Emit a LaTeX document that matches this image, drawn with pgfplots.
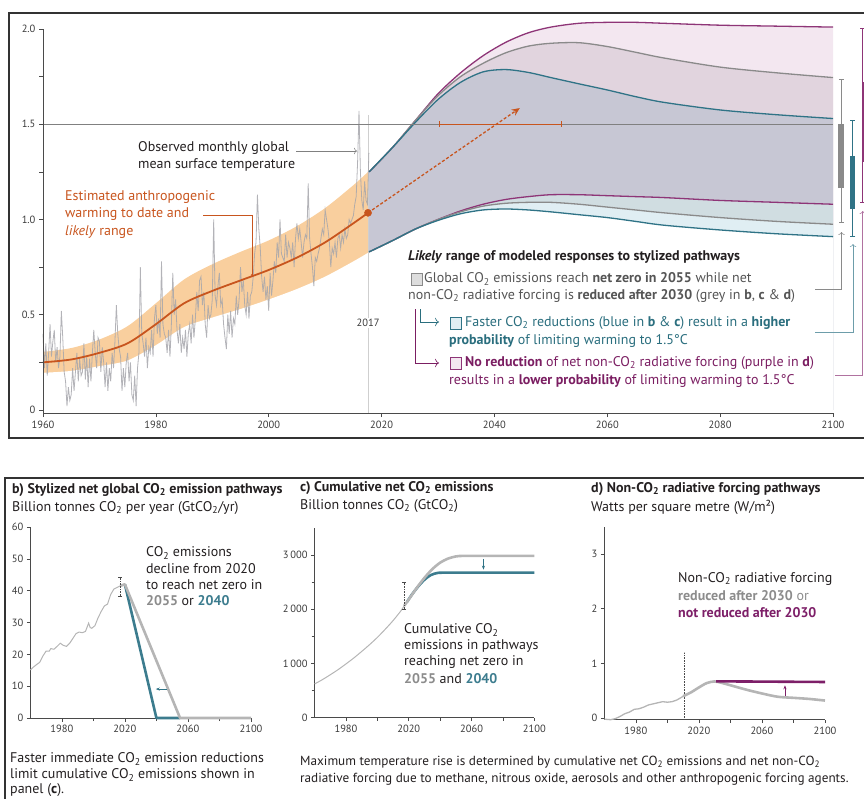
\documentclass[border=0pt]{standalone}
\usepackage{fontspec}
\setmainfont{PT Sans}
\usepackage{pgfplots}
\pgfplotsset{compat=1.18}
\usepackage{pgfplotstable}
\usetikzlibrary{arrows.meta}

\definecolor{axc}{HTML}{4A4A4A}
\definecolor{tlc}{HTML}{3A3A3A}
\definecolor{framec}{HTML}{333333}
\definecolor{obsc}{HTML}{A6A6AC}
\definecolor{bandc}{HTML}{F9CF9E}
\definecolor{orc}{HTML}{C8551E}
\definecolor{vlinec}{HTML}{CFCFCF}
\definecolor{hlc}{HTML}{808080}
\definecolor{fpink}{HTML}{F3E7F0}
\definecolor{fpg}{HTML}{E1D4DE}
\definecolor{fmid}{HTML}{C7C7D4}
\definecolor{fbg}{HTML}{D0DDE1}
\definecolor{flb}{HTML}{E0EEF3}
\definecolor{purl}{HTML}{8E3577}
\definecolor{grl}{HTML}{8A8A8A}
\definecolor{tel}{HTML}{2F7386}
\definecolor{txt}{HTML}{231F20}
\definecolor{gtxt}{HTML}{555555}
\definecolor{ttxt}{HTML}{2A6E7E}
\definecolor{ptxt}{HTML}{7B1E62}
\definecolor{gthick}{HTML}{B5B5B5}
\definecolor{tthick}{HTML}{3C7C8E}
\definecolor{pthick}{HTML}{7D1F68}
\definecolor{num}{HTML}{8C8C8C}

\newcommand\co{CO\textsubscript{2}}
\newcommand\ann{\fontsize{14}{17}\selectfont}
\newcommand\tickf{\fontsize{10.5}{12}\selectfont}

% anthropogenic warming and likely range
\pgfplotstableread{
yr mid up lo
1960 0.25 0.305 0.195
1965 0.265 0.325 0.205
1970 0.30 0.37 0.23
1975 0.35 0.44 0.26
1980 0.45 0.56 0.34
1985 0.56 0.685 0.435
1990 0.625 0.765 0.485
1995 0.68 0.83 0.53
2000 0.735 0.89 0.58
2005 0.80 0.965 0.635
2010 0.88 1.06 0.70
2015 0.98 1.18 0.78
2017.6 1.035 1.25 0.825
}\anthro

% likely ranges of the stylized pathways (upper / lower)
\pgfplotstableread{
yr pu gu bu pl gl bl
2017.8 1.25 1.25 1.25 0.83 0.83 0.83
2022 1.38 1.38 1.38 0.89 0.89 0.89
2026 1.52 1.52 1.51 0.95 0.95 0.95
2030 1.66 1.65 1.63 1.00 1.00 0.995
2034 1.77 1.75 1.72 1.045 1.04 1.03
2038 1.86 1.82 1.775 1.08 1.07 1.05
2042 1.93 1.875 1.787 1.105 1.085 1.055
2046 1.98 1.91 1.772 1.12 1.09 1.05
2050 2.01 1.925 1.745 1.13 1.09 1.04
2055 2.03 1.928 1.712 1.13 1.08 1.025
2060 2.035 1.908 1.68 1.125 1.065 1.01
2065 2.035 1.878 1.645 1.12 1.05 0.99
2070 2.03 1.848 1.615 1.115 1.035 0.97
2080 2.02 1.80 1.575 1.10 1.01 0.945
2090 2.015 1.77 1.55 1.09 0.99 0.925
2100 2.01 1.745 1.53 1.08 0.975 0.91
}\future

\pgfplotsset{
  bot/.style={anchor=south west, scale only axis, xmin=1960, xmax=2100, clip=false,
    axis lines*=left, axis line style={-, draw=axc, line width=0.8pt},
    tick style={draw=axc, line width=0.6pt}, tick align=outside,
    major tick length=3.5pt, minor tick length=3pt,
    xtick={1980,2020,2060,2100}, xticklabels={1980,2020,2060,2100},
    minor xtick={2000,2040,2080},
    tick label style={font=\tickf, text=tlc},
    /pgf/number format/assume math mode=true},
}

\begin{document}
\begin{tikzpicture}
\path[use as bounding box] (0pt,0pt) rectangle (864pt,-798pt);
\clip (0pt,0pt) rectangle (864pt,-798pt);

\draw[framec, line width=1.2pt] (9pt,-13pt) rectangle (880pt,-438pt);
\draw[framec, line width=1.2pt] (880pt,-478pt) -- (5pt,-478pt) -- (5pt,-810pt);

%% a) temperature panel
\begin{axis}[
  at={(43pt,-413pt)}, anchor=south west, scale only axis,
  width=790pt, height=384pt,
  xmin=1960, xmax=2100, ymin=-0.016, ymax=2,
  clip=false, axis on top,
  axis lines*=left, axis line style={-, draw=axc, line width=0.9pt},
  xtick={1960,1980,...,2100},
  xticklabels={1960,1980,2000,2020,2040,2060,2080,2100},
  ytick={0,0.5,1,1.5,2}, yticklabels={0,0.5,1.0,1.5,2.0},
  minor ytick={0.25,0.75,1.25,1.75},
  tick align=outside,
  major tick length=4pt, minor tick length=4pt,
  tick style={draw=axc, line width=0.7pt},
  tick label style={font=\tickf, text=tlc},
  /pgf/number format/assume math mode=true,
]
% anthropogenic likely range (upper edge filled, lower edge masked)
\addplot[fill=bandc, draw=none, smooth] table[x=yr, y=up] {\anthro} \closedcycle;
\addplot[fill=white, draw=none, smooth] table[x=yr, y=lo] {\anthro} \closedcycle;

% stylized pathway ranges, stacked from the top edge down
\addplot[fill=fpink, draw=none, smooth] table[x=yr, y=pu] {\future} \closedcycle;
\addplot[fill=fpg, draw=none, smooth] table[x=yr, y=gu] {\future} \closedcycle;
\addplot[fill=fmid, draw=none, smooth] table[x=yr, y=bu] {\future} \closedcycle;
\addplot[fill=fbg, draw=none, smooth] table[x=yr, y=pl] {\future} \closedcycle;
\addplot[fill=flb, draw=none, smooth] table[x=yr, y=gl] {\future} \closedcycle;
\addplot[fill=white, draw=none, smooth] table[x=yr, y=bl] {\future} \closedcycle;

\addplot[vlinec, line width=0.8pt] coordinates {(2017.6,-0.016)(2017.6,1.55)};

\addplot[obsc, line width=0.8pt, opacity=0.85] coordinates {
(1960,.40)(1960.25,.22)(1960.5,.35)(1960.75,.18)
(1961,.30)(1961.25,.45)(1961.5,.28)(1961.75,.36)
(1962,.42)(1962.25,.25)(1962.5,.33)(1962.75,.22)
(1963,.28)(1963.25,.52)(1963.5,.38)(1963.75,.20)
(1964,.15)(1964.25,.02)(1964.5,.12)(1964.75,.05)
(1965,.08)(1965.25,.22)(1965.5,.10)(1965.75,.20)
(1966,.30)(1966.25,.15)(1966.5,.27)(1966.75,.18)
(1967,.20)(1967.25,.35)(1967.5,.16)(1967.75,.28)
(1968,.12)(1968.25,.27)(1968.5,.15)(1968.75,.30)
(1969,.42)(1969.25,.30)(1969.5,.22)(1969.75,.38)
(1970,.36)(1970.25,.20)(1970.5,.33)(1970.75,.25)
(1971,.12)(1971.25,.25)(1971.5,.10)(1971.75,.22)
(1972,.15)(1972.25,.30)(1972.5,.22)(1972.75,.36)
(1973,.55)(1973.25,.40)(1973.5,.32)(1973.75,.28)
(1974,.10)(1974.25,.22)(1974.5,.12)(1974.75,.25)
(1975,.30)(1975.25,.15)(1975.5,.25)(1975.75,.08)
(1976,.05)(1976.25,.18)(1976.5,.02)(1976.75,.22)
(1977,.30)(1977.25,.75)(1977.5,.40)(1977.75,.35)
(1978,.28)(1978.25,.38)(1978.5,.22)(1978.75,.33)
(1979,.30)(1979.25,.42)(1979.5,.28)(1979.75,.48)
(1980,.55)(1980.25,.40)(1980.5,.48)(1980.75,.38)
(1981,.78)(1981.25,.45)(1981.5,.40)(1981.75,.38)
(1982,.30)(1982.25,.42)(1982.5,.28)(1982.75,.45)
(1983,.72)(1983.25,.50)(1983.5,.58)(1983.75,.42)
(1984,.35)(1984.25,.45)(1984.5,.30)(1984.75,.38)
(1985,.32)(1985.25,.42)(1985.5,.28)(1985.75,.40)
(1986,.45)(1986.25,.35)(1986.5,.50)(1986.75,.38)
(1987,.48)(1987.25,.62)(1987.5,.52)(1987.75,.68)
(1988,.70)(1988.25,.55)(1988.5,.62)(1988.75,.45)
(1989,.38)(1989.25,.55)(1989.5,.48)(1989.75,.50)
(1990,.58)(1990.25,1.00)(1990.5,.60)(1990.75,.55)
(1991,.65)(1991.25,.72)(1991.5,.55)(1991.75,.58)
(1992,.45)(1992.25,.38)(1992.5,.32)(1992.75,.50)
(1993,.40)(1993.25,.52)(1993.5,.38)(1993.75,.48)
(1994,.45)(1994.25,.60)(1994.5,.50)(1994.75,.58)
(1995,.75)(1995.25,.62)(1995.5,.68)(1995.75,.55)
(1996,.50)(1996.25,.62)(1996.5,.48)(1996.75,.60)
(1997,.62)(1997.25,.70)(1997.5,.82)(1997.75,.88)
(1998,1.13)(1998.25,.95)(1998.5,.85)(1998.75,.70)
(1999,.62)(1999.25,.70)(1999.5,.58)(1999.75,.65)
(2000,.52)(2000.25,.72)(2000.5,.60)(2000.75,.68)
(2001,.78)(2001.25,.72)(2001.5,.88)(2001.75,.80)
(2002,1.00)(2002.25,.82)(2002.5,.80)(2002.75,.78)
(2003,.92)(2003.25,.80)(2003.5,.88)(2003.75,.85)
(2004,.80)(2004.25,.88)(2004.5,.75)(2004.75,.90)
(2005,.98)(2005.25,.90)(2005.5,.95)(2005.75,.88)
(2006,.80)(2006.25,.88)(2006.5,.92)(2006.75,.90)
(2007,1.19)(2007.25,.90)(2007.5,.82)(2007.75,.75)
(2008,.65)(2008.25,.80)(2008.5,.78)(2008.75,.82)
(2009,.85)(2009.25,.90)(2009.5,.95)(2009.75,.92)
(2010,1.05)(2010.25,1.00)(2010.5,.95)(2010.75,.88)
(2011,.75)(2011.25,.85)(2011.5,.82)(2011.75,.88)
(2012,.80)(2012.25,.90)(2012.5,.92)(2012.75,.85)
(2013,.92)(2013.25,.88)(2013.5,.95)(2013.75,.90)
(2014,.92)(2014.25,1.00)(2014.5,.98)(2014.75,1.00)
(2015,1.02)(2015.25,1.08)(2015.5,1.12)(2015.75,1.30)
(2016,1.57)(2016.25,1.25)(2016.5,1.10)(2016.75,1.05)
(2017,1.20)(2017.25,1.10)(2017.5,1.08)(2017.75,1.35)
};

\addplot[orc, line width=1.8pt, smooth] table[x=yr, y=mid] {\anthro};

\addplot[purl, line width=1.3pt, smooth] table[x=yr, y=pu] {\future};
\addplot[purl, line width=1.3pt, smooth] table[x=yr, y=pl] {\future};
\addplot[grl, line width=1.3pt, smooth] table[x=yr, y=gu] {\future};
\addplot[grl, line width=1.3pt, smooth] table[x=yr, y=gl] {\future};
\addplot[tel, line width=1.3pt, smooth] table[x=yr, y=bu] {\future};
\addplot[tel, line width=1.3pt, smooth] table[x=yr, y=bl] {\future};

\addplot[hlc, line width=0.7pt] coordinates {(1960,1.5)(2100,1.5)};

% 1.5C crossing range and extrapolation
\addplot[orc, line width=1pt, {Bar[width=6pt]}-{Bar[width=6pt]}] coordinates {(2030.2,1.5)(2052,1.5)};
\addplot[orc, line width=1.3pt, dash pattern=on 3pt off 2pt, -{Stealth[length=8pt,width=7pt]}] coordinates {(2017.6,1.035)(2044.5,1.585)};
\addplot[only marks, mark=*, mark size=3.6pt, orc] coordinates {(2017.6,1.035)};

% ranges at 2100
\addplot[grl, line width=0.9pt, {Bar[width=5pt]}-{Bar[width=5pt]}] coordinates {(2101.5,0.98)(2101.5,1.74)};
\addplot[grl, line width=6pt] coordinates {(2101.5,1.165)(2101.5,1.50)};
\addplot[tel, line width=0.9pt, {Bar[width=5pt]}-{Bar[width=5pt]}] coordinates {(2103.5,0.91)(2103.5,1.52)};
\addplot[tel, line width=5pt] coordinates {(2103.5,1.055)(2103.5,1.333)};
\addplot[purl, line width=0.9pt, {Bar[width=5pt]}-{Bar[width=5pt]}] coordinates {(2105.3,1.087)(2105.3,2.005)};
\addplot[purl, line width=5pt] coordinates {(2105.6,1.30)(2105.6,1.72)};

\node[font=\tickf, text=tlc, fill=white, inner sep=1.5pt] at (axis cs:2017.6,0.457) {2017};
\end{axis}

%% b) emissions
\begin{axis}[bot, at={(30.3pt,-718pt)}, width=220.7pt, height=191pt,
  ymin=0, ymax=60, ytick={0,10,...,60}, yticklabels={0,10,20,30,40,50,60}]
\addplot[gthick, line width=1pt] coordinates {
(1960,15.1)(1962,16)(1964,16.8)(1966,17.5)(1968,19.5)(1970,21)(1972,21)(1973,21.8)
(1975,21.6)(1977,22.5)(1979,23.5)(1981,22.8)(1983,22.5)(1985,23.5)(1987,25)(1989,26.5)
(1991,27)(1993,26.8)(1995,27.2)(1997,29.8)(1998,28.4)(1999,28.2)(2001,29)(2003,31.5)
(2005,33.5)(2007,35.2)(2009,35.8)(2011,38.8)(2013,40.5)(2015,41)(2017,41.5)};
\addplot[tthick, line width=2.6pt, line join=round] coordinates {(2020,42)(2040,0)(2055,0)};
\addplot[gthick, line width=2.6pt, line join=round] coordinates {(2017,41.5)(2020,42)(2055,0)(2100,0)};
\addplot[axc, line width=0.6pt, densely dotted, {Bar[width=4pt]}-{Bar[width=4pt]}] coordinates {(2017,38.2)(2017,44.4)};
\addplot[tel, line width=0.8pt, -{Stealth[length=4pt]}] coordinates {(2047,9.1)(2039.6,9.1)};
\end{axis}

%% c) cumulative emissions
\begin{axis}[bot, at={(314.6pt,-717.5pt)}, width=219.7pt, height=189.5pt,
  ymin=0, ymax=3500, ytick={0,1000,2000,3000},
  yticklabels={0,1\,000,2\,000,3\,000}, minor ytick={500,1500,2500}]
\addplot[gthick, line width=1pt, smooth] coordinates {
(1960,620)(1965,700)(1970,790)(1975,885)(1980,990)(1985,1100)(1990,1220)
(1995,1345)(2000,1480)(2005,1630)(2010,1790)(2015,1970)(2017,2060)};
\addplot[tthick, line width=2.6pt, smooth] coordinates {
(2019,2140)(2022,2270)(2026,2420)(2030,2545)(2034,2630)(2038,2668)(2042,2675)(2060,2675)(2080,2675)(2100,2675)};
\addplot[gthick, line width=2.6pt, smooth] coordinates {
(2017,2060)(2020,2180)(2025,2390)(2030,2580)(2035,2740)(2040,2860)(2045,2935)(2050,2975)(2055,2985)(2070,2985)(2085,2985)(2100,2985)};
\addplot[axc, line width=0.6pt, densely dotted, {Bar[width=4pt]}-{Bar[width=4pt]}] coordinates {(2017,2000)(2017,2500)};
\addplot[tel, line width=0.8pt, -{Stealth[length=4pt]}] coordinates {(2067.6,2930)(2067.6,2730)};
\end{axis}

%% d) non-CO2 forcing
\begin{axis}[bot, at={(604.3pt,-719.7pt)}, width=220.7pt, height=193pt,
  ymin=-0.03, ymax=3.5, ytick={0,1,2,3}, yticklabels={0,1,2,3}]
\addplot[axc, line width=0.6pt, densely dotted] coordinates {(2010.8,0)(2010.8,1.2)};
\addplot[gthick, line width=1.3pt] coordinates {
(1960,-0.02)(1964,-0.03)(1967,-0.01)(1970,0.03)(1973,0.08)(1976,0.11)(1979,0.16)
(1982,0.17)(1985,0.20)(1988,0.24)(1991,0.26)(1994,0.28)(1997,0.30)(2000,0.29)
(2003,0.30)(2006,0.33)(2009,0.38)(2012,0.44)};
\addplot[gthick, line width=2.6pt, smooth] coordinates {
(2010,0.40)(2015,0.47)(2020,0.56)(2025,0.64)(2030,0.67)(2035,0.64)(2040,0.60)
(2050,0.52)(2060,0.45)(2070,0.39)(2080,0.37)(2090,0.35)(2100,0.32)};
\addplot[pthick, line width=2.6pt] coordinates {(2031,0.672)(2100,0.66)};
\addplot[pthick, line width=0.8pt, -{Stealth[length=4pt]}] coordinates {(2074.6,0.41)(2074.6,0.60)};
\end{axis}

%% annotations
\begin{scope}[x=1pt, y=-1pt, every node/.style={anchor=west, inner sep=0pt, font=\ann}]
\node[text=txt] at (138,148) {Observed monthly global};
\node[text=txt] at (138,165) {mean surface temperature};
\draw[hlc, line width=0.6pt, -{To[length=3pt]}] (296,151) -- (357,151);
\node[text=orc] at (65,197) {Estimated anthropogenic};
\node[text=orc] at (65,214) {warming to date and};
\node[text=orc] at (65,232) {\textit{likely} range};
\draw[orc, line width=0.6pt] (203,215) -- (252,215) -- (252,275);
\fill[orc] (252,275) circle (1.2);

\node[text=txt] at (408,257) {\textbf{\textit{Likely} range of modeled responses to stylized pathways}};
\draw[fill=vlinec!70, draw=grl, line width=0.6pt] (411,273) rectangle (422,285);
\node[text=gtxt] at (424,279) {Global \co{} emissions reach \textbf{net zero in 2055} while net};
\node[text=gtxt] at (408,296) {non-\co{} radiative forcing is \textbf{reduced after 2030} (grey in \textbf{b}, \textbf{c} \& \textbf{d})};
\draw[ttxt, line width=0.6pt, -{To[length=4pt]}] (420,309) -- (420,322) -- (439,322);
\draw[ptxt, line width=0.6pt, -{To[length=4pt]}] (415,309) -- (415,363) -- (439,363);
\draw[fill=flb, draw=tel, line width=0.6pt] (450,317) rectangle (461,329);
\node[text=ttxt] at (465,323) {Faster \co{} reductions (blue in \textbf{b} \& \textbf{c}) result in a \textbf{higher}};
\node[text=ttxt] at (449,341) {\textbf{probability} of limiting warming to 1.5°C};
\draw[fill=fpink, draw=purl, line width=0.6pt] (450,357) rectangle (461,369);
\node[text=ptxt] at (465,363) {\textbf{No reduction} of net non-\co{} radiative forcing (purple in \textbf{d})};
\node[text=ptxt] at (449,381) {results in a \textbf{lower probability} of limiting warming to 1.5°C};

\draw[grl, line width=0.6pt, -{To[length=3pt]}] (815,289) -- (841.5,289) -- (841.5,232);
\draw[tel!70, line width=0.6pt, -{To[length=3pt]}] (815,332) -- (853,332) -- (853,244);
\draw[purl!70, line width=0.6pt, -{To[length=3pt]}] (835,375) -- (862.7,375) -- (862.7,211);

\node[text=txt] at (12,490) {\textbf{b) Stylized net global \co{} emission pathways}};
\node[text=txt] at (12,508) {Billion tonnes \co{} per year (Gt\co/yr)};
\node[text=txt] at (300,488) {\textbf{c) Cumulative net \co{} emissions}};
\node[text=txt] at (300,506) {Billion tonnes \co{} (Gt\co)};
\node[text=txt] at (591,489) {\textbf{d) Non-\co{} radiative forcing pathways}};
\node[text=txt] at (591,507) {Watts per square metre (W/m²)};

\node[text=txt] at (146,553) {\co{} emissions};
\node[text=txt] at (146,569) {decline from 2020};
\node[text=txt] at (146,585) {to reach net zero in};
\node[text=txt] at (146,601) {\textbf{\textcolor{num}{2055}} or \textbf{\textcolor{tthick}{2040}}};

\node[text=txt] at (404,630) {Cumulative \co};
\node[text=txt] at (404,646) {emissions in pathways};
\node[text=txt] at (404,662) {reaching net zero in};
\node[text=txt] at (404,679) {\textbf{\textcolor{num}{2055}} and \textbf{\textcolor{tthick}{2040}}};

\node[text=txt] at (678,579) {Non-\co{} radiative forcing};
\node[text=num] at (678,596) {\textbf{reduced after 2030} or};
\node[text=pthick] at (678,613) {\textbf{not reduced after 2030}};

\node[text=txt] at (10,759) {Faster immediate \co{} emission reductions};
\node[text=txt] at (10,775) {limit cumulative \co{} emissions shown in};
\node[text=txt] at (10,790) {panel (\textbf{c}).};
\node[text=txt, font=\fontsize{13.2}{16}\selectfont] at (300,762) {Maximum temperature rise is determined by cumulative net \co{} emissions and net non-\co};
\node[text=txt, font=\fontsize{13.2}{16}\selectfont] at (300,779) {radiative forcing due to methane, nitrous oxide, aerosols and other anthropogenic forcing agents.};
\end{scope}
\end{tikzpicture}
\end{document}
